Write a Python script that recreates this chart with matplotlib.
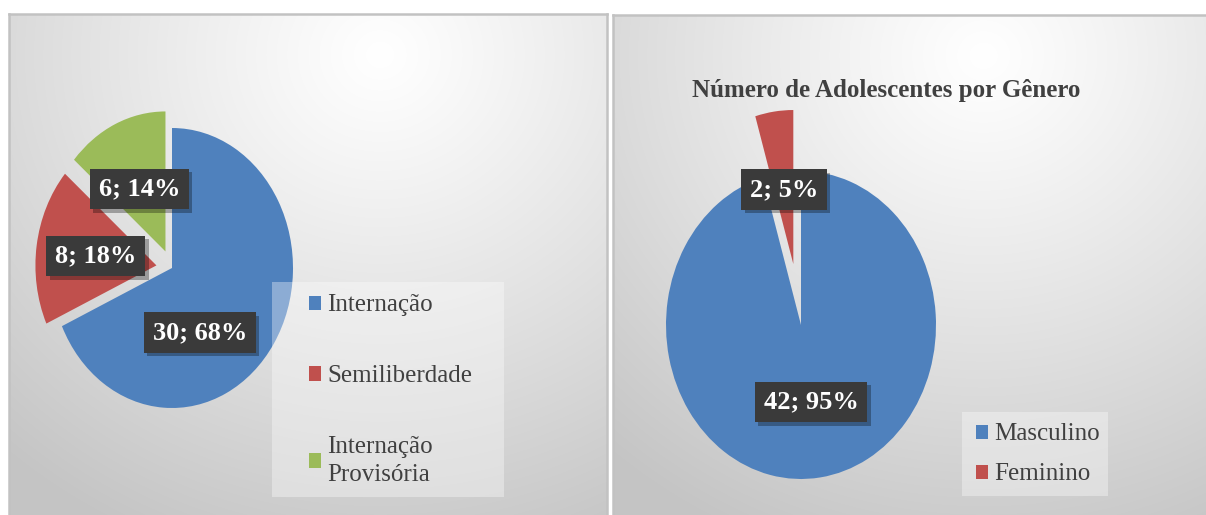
import numpy as np
import matplotlib
matplotlib.use("Agg")
import matplotlib.pyplot as plt
from matplotlib.patches import Rectangle, Patch
from matplotlib.patheffects import SimplePatchShadow, Normal

# ---------------- data ----------------
medidas = ["Internação", "Semiliberdade", "Internação\nProvisória"]
medidas_n = [30, 8, 6]
medidas_pct = [68, 18, 14]

generos = ["Masculino", "Feminino"]
generos_n = [42, 2]
generos_pct = [95, 5]

titulo2 = "Número de Adolescentes por Gênero"

# ---------------- style ----------------
W, H = 1206, 515
colors1 = ["#4f81bd", "#c0504d", "#9bbb59"]
colors2 = ["#4f81bd", "#c0504d"]
SERIF = ["Liberation Serif", "DejaVu Serif"]
TXT = "#404040"

fig = plt.figure(figsize=(W / 100, H / 100), dpi=100)
fig.patch.set_facecolor("white")


def px(x0, y0, x1, y1):
    """pixel box (top-left origin) -> figure fraction rect"""
    return [x0 / W, 1 - y1 / H, (x1 - x0) / W, (y1 - y0) / H]


def panel_bg(box, cx, cy):
    ax = fig.add_axes(px(*box))
    w = box[2] - box[0]
    h = box[3] - box[1]
    yy, xx = np.mgrid[0:h, 0:w]
    d = np.sqrt(((xx - cx * w) / (w * 0.95)) ** 2 + ((yy - cy * h) / (h * 1.05)) ** 2)
    d = np.clip(d, 0, 1)
    v = 1.0 - (1.0 - 0.77) * d ** 1.1
    img = np.dstack([v, v, v])
    ax.imshow(img, aspect="auto", interpolation="bilinear")
    ax.set_xticks([])
    ax.set_yticks([])
    for s in ax.spines.values():
        s.set_color("#c2c2c2")
        s.set_linewidth(1.8)
    return ax


panel_bg((9, 14, 607, 520), 0.62, 0.08)
panel_bg((613, 15, 1210, 520), 0.62, 0.08)


def pie_axes(cx, cy, rx, ry, span=1.6):
    ax = fig.add_axes(px(cx - span * rx, cy - span * ry, cx + span * rx, cy + span * ry))
    ax.set_xlim(-span, span)
    ax.set_ylim(-span, span)
    ax.axis("off")
    return ax


def label_box(ax, x, y, s):
    t = ax.text(x, y, s, ha="center", va="center", fontsize=19, fontweight="bold",
                family=SERIF, color="white",
                bbox=dict(boxstyle="square,pad=0.33", fc="#3a3a3a", ec="none"),
                zorder=6)
    t.get_bbox_patch().set_path_effects(
        [SimplePatchShadow(offset=(2.5, -2.5), shadow_rgbFace="black", alpha=0.3), Normal()])


# ---------------- left pie ----------------
ax1 = pie_axes(172, 268, 121, 140)
w1, _ = ax1.pie(medidas_n, colors=colors1, startangle=90, counterclock=False,
                explode=[0, 0.13, 0.13], radius=1.0,
                wedgeprops=dict(linewidth=0))
ax1.set_aspect("auto")
ax1.set_xlim(-1.6, 1.6)
ax1.set_ylim(-1.6, 1.6)
lab_pos1 = [(0.23, -0.46), (-0.63, 0.085), (-0.27, 0.565)]
for (x, y), n, p in zip(lab_pos1, medidas_n, medidas_pct):
    label_box(ax1, x, y, f"{n}; {p}%")

# legend 1
fig.patches.append(Rectangle((272 / W, 1 - 497 / H), 232 / W, 215 / H,
                             transform=fig.transFigure, fc="white", alpha=0.35,
                             ec="none", zorder=3))
handles1 = [Patch(fc=c, ec="none") for c in colors1]
leg1 = fig.legend(handles1, medidas, loc="upper left",
                  bbox_to_anchor=(286 / W, 1 - 272 / H), frameon=False,
                  prop=dict(family=SERIF, size=18), labelcolor=TXT,
                  handlelength=0.5, handleheight=0.5, handletextpad=0.25,
                  labelspacing=1.95)
for t in leg1.get_texts():
    t.set_linespacing(1.35)

# ---------------- right pie ----------------
ax2 = pie_axes(801, 325, 135, 154)
w2, _ = ax2.pie(generos_n, colors=colors2, startangle=90, counterclock=False,
                explode=[0, 0.4], radius=1.0, wedgeprops=dict(linewidth=0))
ax2.set_aspect("auto")
ax2.set_xlim(-1.6, 1.6)
ax2.set_ylim(-1.6, 1.6)
lab_pos2 = [(0.074, -0.5), (-0.126, 0.88)]
for (x, y), n, p in zip(lab_pos2, generos_n, generos_pct):
    label_box(ax2, x, y, f"{n}; {p}%")

fig.text(886 / W, 1 - 90 / H, titulo2, ha="center", va="center", fontsize=18,
         fontweight="bold", family=SERIF, color=TXT)

fig.patches.append(Rectangle((962 / W, 1 - 496 / H), 146 / W, 84 / H,
                             transform=fig.transFigure, fc="white", alpha=0.35,
                             ec="none", zorder=3))
handles2 = [Patch(fc=c, ec="none") for c in colors2]
leg2 = fig.legend(handles2, generos, loc="upper left",
                  bbox_to_anchor=(953 / W, 1 - 401 / H), frameon=False,
                  prop=dict(family=SERIF, size=18), labelcolor=TXT,
                  handlelength=0.5, handleheight=0.5, handletextpad=0.25,
                  labelspacing=0.72)

fig.savefig("out.png", dpi=100)
